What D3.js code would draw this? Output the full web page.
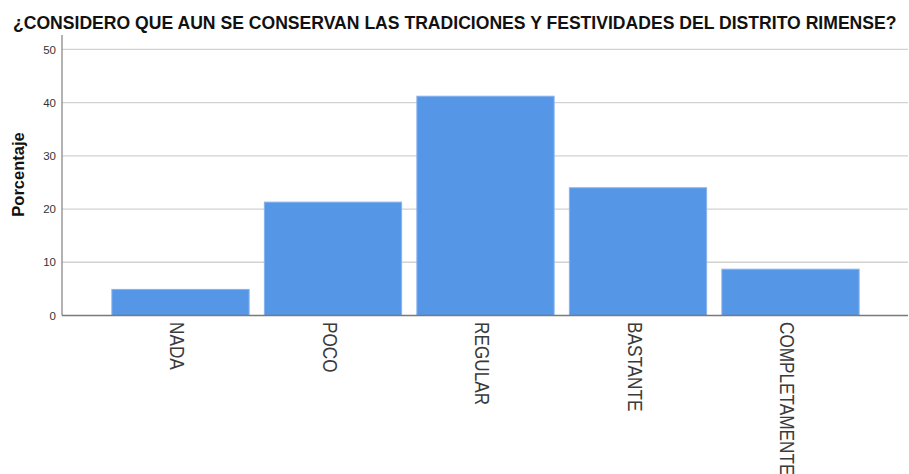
<!DOCTYPE html>
<html><head><meta charset="utf-8">
<script src="https://cdn.jsdelivr.net/npm/d3@7"></script>
<style>body{margin:0;background:#fff}svg{display:block}</style>
</head><body>
<svg id="c" width="909" height="474"></svg>
<script>
const title = "¿CONSIDERO QUE AUN SE CONSERVAN LAS TRADICIONES Y FESTIVIDADES DEL DISTRITO RIMENSE?";
const yLabel = "Porcentaje";
const categories = ["NADA", "POCO", "REGULAR", "BASTANTE", "COMPLETAMENTE"];
const values = [4.9, 21.3, 41.2, 24.0, 8.7];
const yTicks = [0, 10, 20, 30, 40, 50];

const svg = d3.select("#c");
const font = "'Liberation Sans', Arial, sans-serif";
const axisX = 62, rightX = 908, baseY = 315.5, topY = 35;

const y = d3.scaleLinear().domain([0, 52.7]).range([baseY, topY]);
const x = d3.scaleBand().domain(categories).range([104.25, 866.75]).paddingInner(0.1).paddingOuter(0.05);

// gridlines
svg.append("g").selectAll("line").data(yTicks.filter(d => d > 0)).join("line")
  .attr("x1", axisX).attr("x2", rightX)
  .attr("y1", d => y(d)).attr("y2", d => y(d))
  .attr("stroke", "#d2d2d2").attr("stroke-width", 1.3);

// bars
svg.append("g").selectAll("rect").data(values).join("rect")
  .attr("x", (d, i) => x(categories[i]))
  .attr("width", x.bandwidth())
  .attr("y", d => y(d))
  .attr("height", d => baseY - y(d))
  .attr("fill", "#5596e6")
  .attr("stroke", "#86b3ee").attr("stroke-width", 1);

// axes lines
svg.append("line").attr("x1", axisX).attr("x2", axisX).attr("y1", topY).attr("y2", baseY)
  .attr("stroke", "#8a8a8a").attr("stroke-width", 1.3);
svg.append("line").attr("x1", axisX).attr("x2", rightX).attr("y1", baseY).attr("y2", baseY)
  .attr("stroke", "#7a7a7a").attr("stroke-width", 1.5);

// y axis ticks via d3 axis (labels only)
const yAxis = svg.append("g").attr("transform", `translate(${axisX},0)`)
  .call(d3.axisLeft(y).tickValues(yTicks).tickSize(0).tickPadding(6));
yAxis.select(".domain").remove();
yAxis.selectAll("text").attr("font-family", font).attr("font-size", 11.5).attr("fill", "#333");

// x labels
const gx = svg.append("g");
categories.forEach(c => {
  const cx = x(c) + x.bandwidth() / 2 - 2.5;
  gx.append("text")
    .attr("transform", `translate(${cx},322) rotate(90) scale(1,1.22)`)
    .attr("y", "0.358em")
    .attr("font-family", font).attr("font-size", 17.2).attr("fill", "#3a3a3a")
    .text(c);
});

// y label
svg.append("text")
  .attr("transform", "translate(18.5,174.5) rotate(-90)")
  .attr("text-anchor", "middle").attr("dy", "0.358em")
  .attr("font-family", font).attr("font-size", 16.5).attr("font-weight", "bold").attr("fill", "#111")
  .text(yLabel);

// title
const t = svg.append("text")
  .attr("font-family", font).attr("font-size", 15.4).attr("font-weight", "bold").attr("fill", "#111")
  .text(title);
const len = t.node().getComputedTextLength();
t.attr("transform", `translate(13,29) scale(${884 / len},${13.5 / (0.716 * 15.4)})`);
</script>
</body></html>
